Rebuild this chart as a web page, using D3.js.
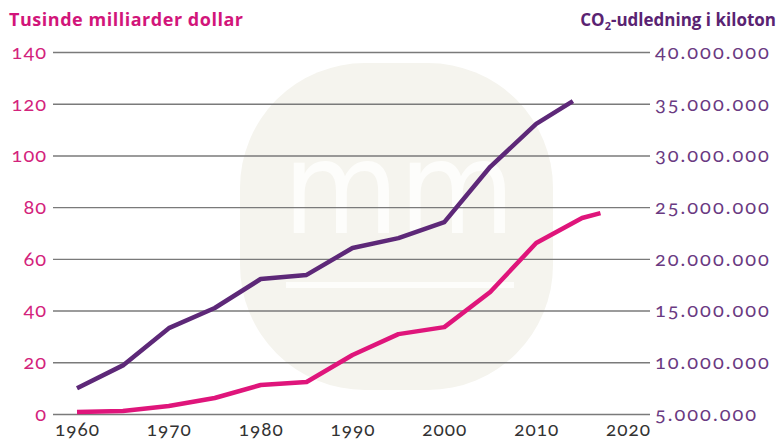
<!DOCTYPE html>
<html>
<head>
<meta charset="utf-8">
<script src="https://cdn.jsdelivr.net/npm/d3@7"></script>
<style>
  body { margin: 0; background: #fff; }
  .num { font-family: Lato, "Noto Sans", sans-serif; font-feature-settings: "onum" 1; font-variant-numeric: oldstyle-nums; }
</style>
</head>
<body>
<div id="chart"></div>
<script>
// values
const gdpYears = [1960, 1965, 1970, 1975, 1980, 1985, 1990, 1995, 2000, 2005, 2010, 2015, 2017];
const gdpValues = [0.8, 1.2, 3.1, 6.2, 11.2, 12.4, 22.8, 30.9, 33.6, 47.2, 66.1, 75.8, 77.7];

const co2Years = [1960, 1965, 1970, 1975, 1980, 1985, 1990, 1995, 2000, 2005, 2010, 2014];
const co2Values = [7500000, 9700000, 13300000, 15250000, 18050000, 18450000, 21050000, 22000000, 23550000, 28900000, 33050000, 35250000];

const leftTicks = [0, 20, 40, 60, 80, 100, 120, 140];
const rightTicks = [5000000, 10000000, 15000000, 20000000, 25000000, 30000000, 35000000, 40000000];
const yearTicks = [1960, 1970, 1980, 1990, 2000, 2010, 2020];

let width = 784,
  height = 442;

const magenta = "#df157b";
const purple = "#5d2878";

const svg = d3.select("#chart").append("svg")
  .attr("width", width)
  .attr("height", height);

const x = d3.scaleLinear().domain([1960, 2020]).range([77, 628]);
const yLeft = d3.scaleLinear().domain([0, 140]).range([414, 52]);
const yRight = d3.scaleLinear().domain([5000000, 40000000]).range([414, 52]);

const gridLeft = 53, gridRight = 650;

// watermark
svg.append("rect")
  .attr("x", 240).attr("y", 63)
  .attr("width", 313).attr("height", 327)
  .attr("rx", 125).attr("ry", 125)
  .style("fill", "#f5f4ee");
svg.append("text")
  .attr("x", 283).attr("y", 233)
  .attr("textLength", 232)
  .attr("lengthAdjust", "spacingAndGlyphs")
  .style("font-family", "DejaVu Sans")
  .style("font-size", "128px")
  .style("fill", "#fdfdfb")
  .text("mm");
svg.append("rect")
  .attr("x", 286).attr("y", 282)
  .attr("width", 228).attr("height", 6)
  .style("fill", "#fdfdfb");

// left axis + gridlines
const leftAxis = svg.append("g")
  .attr("transform", "translate(" + gridLeft + ",0)")
  .call(d3.axisLeft(yLeft).tickValues(leftTicks)
    .tickSizeInner(-(gridRight - gridLeft)).tickSizeOuter(0).tickPadding(6));
leftAxis.select(".domain").remove();
leftAxis.selectAll("line").style("stroke", "#7a7a7a").style("stroke-width", 1.4);
leftAxis.selectAll("text")
  .attr("class", "num")
  .style("font-size", "20px")
  .style("letter-spacing", "1px")
  .style("fill", "#d3237c");

// right axis labels
const fmt = d3.formatLocale({ decimal: ",", thousands: ".", grouping: [3], currency: ["", ""] }).format(",d");
const rightAxis = svg.append("g")
  .attr("transform", "translate(" + gridRight + ",0)")
  .call(d3.axisRight(yRight).tickValues(rightTicks).tickSize(0).tickPadding(5).tickFormat(fmt));
rightAxis.select(".domain").remove();
rightAxis.selectAll("text")
  .attr("class", "num")
  .style("font-size", "20px")
  .style("letter-spacing", "2px")
  .style("fill", "#6a3a82");

// x axis labels
const xAxis = svg.append("g")
  .attr("transform", "translate(0,414)")
  .call(d3.axisBottom(x).tickValues(yearTicks).tickSize(0).tickFormat(d3.format("d")));
xAxis.select(".domain").remove();
xAxis.selectAll("text")
  .attr("class", "num")
  .attr("y", 22).attr("dy", 0)
  .style("font-size", "19px")
  .style("letter-spacing", "1px")
  .style("fill", "#333");

// lines
const gdpLine = d3.line().x((d, i) => x(gdpYears[i])).y(d => yLeft(d));
const co2Line = d3.line().x((d, i) => x(co2Years[i])).y(d => yRight(d));

svg.append("path")
  .datum(co2Values)
  .attr("d", co2Line)
  .style("fill", "none")
  .style("stroke", purple)
  .style("stroke-width", 4.5)
  .style("stroke-linejoin", "round");

svg.append("path")
  .datum(gdpValues)
  .attr("d", gdpLine)
  .style("fill", "none")
  .style("stroke", magenta)
  .style("stroke-width", 4.5)
  .style("stroke-linejoin", "round");

// titles
svg.append("text")
  .attr("x", 9).attr("y", 26)
  .attr("textLength", 234)
  .style("font-family", "Open Sans")
  .style("font-weight", "bold")
  .style("font-size", "18px")
  .style("fill", "#d2157a")
  .text("Tusinde milliarder dollar");

const t2 = svg.append("text")
  .attr("x", 776).attr("y", 26)
  .attr("text-anchor", "end")
  .style("font-family", "Open Sans")
  .style("font-weight", "bold")
  .style("font-size", "17px")
  .style("fill", "#5a2372");
t2.append("tspan").text("CO");
t2.append("tspan").attr("dy", 4).style("font-size", "11px").text("2");
t2.append("tspan").attr("dy", -4).text("-udledning i kiloton");
</script>
</body>
</html>
